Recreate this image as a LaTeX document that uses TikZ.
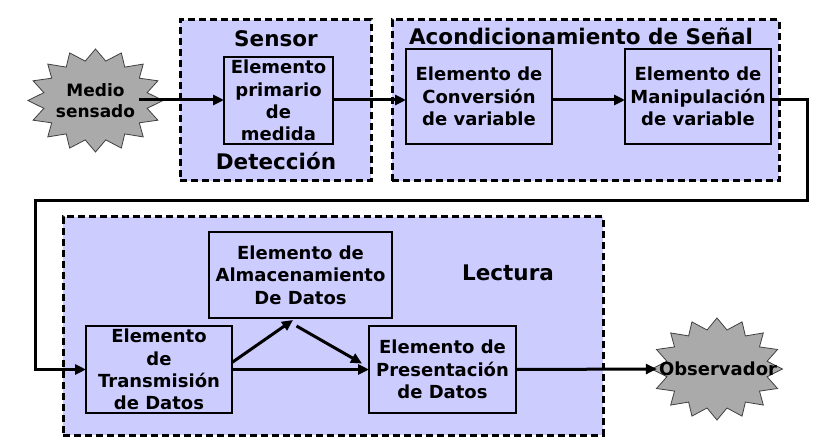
\documentclass[tikz,border=0pt]{standalone}
\usepackage{fontspec}
\setmainfont{DejaVu Sans}
\usetikzlibrary{arrows.meta,calc}
\definecolor{lav}{HTML}{CCCCFF}
\definecolor{burstgray}{HTML}{AAAAAA}

\tikzset{
  group/.style={draw=black, fill=lav, line width=3pt, dash pattern=on 7pt off 4pt,
                inner sep=0pt, outer sep=0pt},
  elem/.style={draw=black, fill=lav, line width=1.6pt, inner sep=0pt, outer sep=0pt,
               font=\fontsize{18}{22.3}\selectfont\bfseries, align=center},
  title/.style={font=\fontsize{21.5}{25}\selectfont\bfseries, anchor=base},
  burstline/.style={draw=black!75, fill=burstgray, line width=0.8pt, line join=miter},
  burstlabel/.style={font=\bfseries, align=center, inner sep=4pt},
  flow/.style={line width=3pt, -{Triangle[length=11pt,width=10pt]}},
}

\begin{document}
\begin{tikzpicture}[x=1pt, y=-1pt]
  \useasboundingbox (0,0) rectangle (827,446);

  % starbursts for the source and the observer
  \draw[burstline] plot[samples at={0,...,31}, variable=\k]
    ({95.5+67.5*(1-0.22*mod(\k,2))*cos(\k*11.25)},
     {100.5+51.5*(1-0.22*mod(\k,2))*sin(\k*11.25)}) -- cycle;
  \draw[burstline] plot[samples at={0,...,31}, variable=\k]
    ({717+65.5*(1-0.22*mod(\k,2))*cos(\k*11.25)},
     {369+51*(1-0.22*mod(\k,2))*sin(\k*11.25)}) -- cycle;
  \node[burstlabel, font=\fontsize{17}{21}\selectfont\bfseries] (medio) at (95.5,100.5)
    {Medio\\sensado};
  \node[burstlabel, font=\fontsize{18}{21}\selectfont\bfseries, inner sep=2pt] (obs) at (718,369)
    {Observador};

  % dashed stage frames
  \node[group, minimum width=191, minimum height=161] (gsensor) at (275.5,100.5) {};
  \node[group, minimum width=387, minimum height=161] (gacond) at (585.5,100.5) {};
  \node[group, minimum width=540, minimum height=218] (glect) at (333,326) {};

  % stage titles
  \node[title] (tsensor) at (276,47) {Sensor};
  \node[title] (tdetec) at (276,170) {Detección};
  \node[title] (tacond) at (581,45) {Acondicionamiento de Señal};
  \node[title] (tlect) at (508,280) {Lectura};

  % functional elements
  \node[elem, minimum width=109, minimum height=87] (prim) at (278.5,100.5)
    {Elemento\\primario\\de\\medida};
  \node[elem, minimum width=146, minimum height=95] (conv) at (479,96.5)
    {Elemento de\\Conversión\\de variable};
  \node[elem, minimum width=146, minimum height=95] (manip) at (698,96.5)
    {Elemento de\\Manipulación\\de variable};
  \node[elem, minimum width=183, minimum height=86] (alm) at (300.5,275)
    {Elemento de\\Almacenamiento\\De Datos};
  \node[elem, minimum width=146, minimum height=87] (trans) at (159,369.5)
    {Elemento\\de\\Transmisión\\de Datos};
  \node[elem, minimum width=147, minimum height=87] (pres) at (442.5,369.5)
    {Elemento de\\Presentación\\de Datos};

  % routing points
  \coordinate (row1) at (0,100);
  \coordinate (turnA) at (807,201);
  \coordinate (turnB) at (35,201);

  % signal flow
  \draw[flow] (medio.east |- row1) -- (prim.west |- row1);
  \draw[flow] (prim.east |- row1) -- (conv.west |- row1);
  \draw[flow] (conv.east |- row1) -- (manip.west |- row1);
  \draw[flow] (manip.east |- row1) -| (turnA) -- (turnB) |- (trans.west);
  \draw[flow] (trans.east) -- (pres.west);
  \draw[flow] ($(trans.east)+(0,-7)$) -- ($(alm.south)+(-7.5,2)$);
  \draw[flow] ($(alm.south)+(-4,8)$) -- ($(pres.west)+(-7,-6)$);
  \draw[flow] (pres.east) -- (obs.west);
\end{tikzpicture}
\end{document}
